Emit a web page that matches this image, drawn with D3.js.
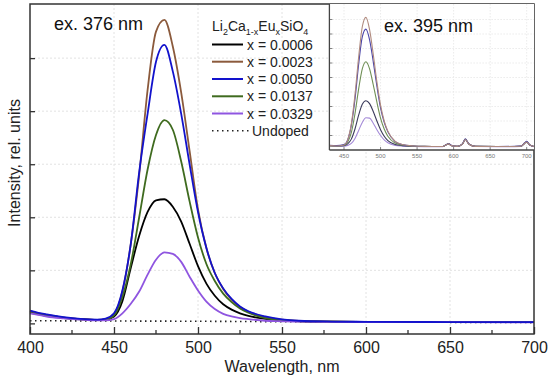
<!DOCTYPE html>
<html><head><meta charset="utf-8">
<script src="https://cdn.jsdelivr.net/npm/d3@7"></script>
<style>body{margin:0;background:#fff}svg{display:block}text{font-family:"Liberation Sans",Arial,sans-serif}</style>
</head><body><svg id="c" width="550" height="379"></svg>
<script>
// ---------- data (main, ex. 376 nm) ----------
const wavelengths = [400,405,410,420,430,440,445,450,455,460,465,470,475,480,485,490,495,500,505,510,515,520,525,530,540,550,560,580,600,650,700];
const seriesLabels = ["x = 0.0006","x = 0.0023","x = 0.0050","x = 0.0137","x = 0.0329"];
const s0006 = [0.22,0.18,0.15,0.11,0.08,0.065,0.07,0.13,0.42,1.05,1.65,2.1,2.32,2.34,2.2,1.92,1.5,1.08,0.75,0.52,0.36,0.26,0.19,0.14,0.085,0.055,0.04,0.032,0.028,0.024,0.022];
const s0023 = [0.23,0.19,0.16,0.11,0.08,0.065,0.08,0.17,0.6,1.5,2.8,4.4,5.5,5.72,5.22,4.35,3.25,2.15,1.42,0.95,0.65,0.45,0.31,0.22,0.12,0.07,0.045,0.032,0.028,0.024,0.022];
const s0050 = [0.24,0.2,0.17,0.12,0.085,0.07,0.09,0.19,0.62,1.5,2.85,3.95,4.93,5.25,4.75,3.95,3.0,2.1,1.42,0.95,0.66,0.46,0.32,0.23,0.13,0.075,0.05,0.035,0.03,0.025,0.022];
const s0137 = [0.2,0.17,0.14,0.1,0.075,0.06,0.07,0.15,0.5,1.12,2.0,2.9,3.55,3.83,3.65,3.05,2.3,1.62,1.12,0.8,0.56,0.4,0.28,0.2,0.1,0.06,0.042,0.032,0.028,0.024,0.022];
const s0329 = [0.19,0.16,0.13,0.095,0.07,0.055,0.055,0.08,0.19,0.37,0.6,0.92,1.2,1.34,1.31,1.16,0.88,0.62,0.41,0.27,0.18,0.13,0.1,0.08,0.05,0.04,0.032,0.028,0.025,0.022,0.02];
const undopedWl = [400,450,500,550,600,650,700];
const undoped = [0.05,0.045,0.04,0.032,0.025,0.02,0.015];
const xTicks = [400,450,500,550,600,650,700];
const xMinor = [425,475,525,575,625,675];
const yTicks = [0,1,2,3,4,5];

// ---------- data (inset, ex. 395 nm) ----------
const insetWl = [430,440,450,455,460,465,470,475,480,485,490,495,500,505,510,520,530,545,560,585,590,593,597,605,612,616,621,630,660,692,697,700,704,710];
const in0006 = [0.3,0.28,0.3,0.42,0.75,1.45,2.4,3.15,3.4,3.2,2.65,2.0,1.4,0.95,0.65,0.38,0.3,0.26,0.24,0.24,0.36,0.42,0.3,0.25,0.4,0.72,0.4,0.25,0.24,0.26,0.45,0.55,0.35,0.24];
const in0023 = [0.3,0.28,0.35,0.7,1.8,3.8,6.4,8.5,9.15,8.3,6.6,4.7,3.1,2.0,1.3,0.6,0.38,0.28,0.25,0.24,0.36,0.42,0.3,0.25,0.4,0.72,0.4,0.25,0.24,0.26,0.45,0.55,0.35,0.24];
const in0050 = [0.32,0.3,0.37,0.7,1.7,3.5,5.9,7.8,8.34,7.6,6.1,4.4,2.9,1.9,1.25,0.58,0.37,0.28,0.25,0.24,0.38,0.45,0.32,0.25,0.42,0.78,0.42,0.25,0.24,0.27,0.48,0.6,0.36,0.24];
const in0137 = [0.3,0.28,0.33,0.55,1.2,2.5,4.2,5.6,6.09,5.6,4.5,3.3,2.2,1.45,0.95,0.48,0.33,0.27,0.25,0.24,0.37,0.43,0.31,0.25,0.41,0.75,0.41,0.25,0.24,0.26,0.46,0.57,0.35,0.24];
const in0329 = [0.3,0.27,0.27,0.32,0.45,0.8,1.35,1.9,2.22,2.2,1.85,1.4,1.0,0.7,0.5,0.32,0.27,0.24,0.23,0.23,0.36,0.42,0.3,0.24,0.4,0.72,0.4,0.24,0.23,0.25,0.45,0.55,0.34,0.23];
const insetXTicks = [450,500,550,600,650,700];
const insetYTicks = [1,2,3,4,5,6,7,8,9];

const colors = ["#000000","#8b5a3c","#1212cc","#3f6b1f","#8f55e0"];
const insetColors = ["#3c3c5c","#b08a7e","#4a44a8","#6f8f55","#a48ad8"];

// ---------- layout ----------
const svg = d3.select("#c");
const L = 30, R = 534, T = 4, B = 334;
const x = d3.scaleLinear().domain([400,700]).range([L,R]);
const y = d3.scaleLinear().domain([-0.2,6.02]).range([B,T]);

// grid
const g = svg.append("g");
g.selectAll("line.gx").data(xTicks.slice(1,-1)).join("line")
  .attr("x1",d=>x(d)).attr("x2",d=>x(d)).attr("y1",T).attr("y2",B)
  .attr("stroke","#e2e2e2").attr("stroke-width",1).attr("stroke-dasharray","2,2");
g.selectAll("line.gy").data(yTicks.slice(1)).join("line")
  .attr("x1",L).attr("x2",R).attr("y1",d=>y(d)).attr("y2",d=>y(d))
  .attr("stroke","#e2e2e2").attr("stroke-width",1).attr("stroke-dasharray","2,2");

// curves
const line = d3.line().x(d=>x(d[0])).y(d=>y(d[1])).curve(d3.curveMonotoneX);
const mainSeries = [s0006,s0023,s0137,s0329,s0050];
const mainColorIdx = [0,1,3,4,2];
svg.append("path").datum(undopedWl.map((w,i)=>[w,undoped[i]]))
  .attr("d",line).attr("fill","none").attr("stroke","#222").attr("stroke-width",1.6)
  .attr("stroke-dasharray","1.5,3.5");
mainSeries.forEach((s,k)=>{
  svg.append("path").datum(wavelengths.map((w,i)=>[w,s[i]]))
    .attr("d",line).attr("fill","none").attr("stroke",colors[mainColorIdx[k]])
    .attr("stroke-width",1.8).attr("stroke-linejoin","round");
});

// axes
const xAxis = d3.axisBottom(x).tickValues(xTicks).tickSize(-7).tickPadding(10).tickFormat(d3.format("d"));
const gx = svg.append("g").attr("transform",`translate(0,${B})`).call(xAxis);
gx.select(".domain").remove();
gx.selectAll(".tick line").attr("stroke","#333").attr("stroke-width",1.3);
gx.selectAll(".tick text").attr("font-size",16).attr("fill","#222").attr("dy","0.71em").attr("y",8);
svg.append("g").selectAll("line").data(xMinor).join("line")
  .attr("x1",d=>x(d)).attr("x2",d=>x(d)).attr("y1",B).attr("y2",B-4)
  .attr("stroke","#333").attr("stroke-width",1.3);
const yAxis = d3.axisLeft(y).tickValues(yTicks).tickSize(-5).tickFormat("");
const gy = svg.append("g").attr("transform",`translate(${L},0)`).call(yAxis);
gy.select(".domain").remove();
gy.selectAll(".tick line").attr("stroke","#333").attr("stroke-width",1.3);

// frame
svg.append("rect").attr("x",L).attr("y",T).attr("width",R-L).attr("height",B-T)
  .attr("fill","none").attr("stroke","#333").attr("stroke-width",1.5);

// labels
svg.append("text").attr("x",(L+R)/2).attr("y",372).attr("text-anchor","middle")
  .attr("font-size",16).attr("fill","#222").text("Wavelength, nm");
svg.append("text").attr("transform","translate(20,163) rotate(-90)").attr("text-anchor","middle")
  .attr("font-size",16).attr("fill","#222").text("Intensity, rel. units");
svg.append("text").attr("x",54).attr("y",30).attr("font-size",18).attr("fill","#111").text("ex. 376 nm");

// legend
const lg = svg.append("g");
const title = lg.append("text").attr("x",212).attr("y",31).attr("font-size",14).attr("fill","#222");
[["Li",0],["2",1],["Ca",0],["1-x",1],["Eu",0],["x",1],["SiO",0],["4",1]].forEach(([t,sub],i,arr)=>{
  const prevSub = i>0 ? arr[i-1][1] : 0;
  const dy = sub && !prevSub ? 4 : (!sub && prevSub ? -4 : 0);
  title.append("tspan").attr("dy",dy).attr("font-size",sub?9:14).text(t);
});
const legY = [44.5,61.7,79,96.3,113.5];
seriesLabels.forEach((lab,i)=>{
  lg.append("line").attr("x1",212).attr("x2",243).attr("y1",legY[i]).attr("y2",legY[i])
    .attr("stroke",colors[i]).attr("stroke-width",2);
  lg.append("text").attr("x",247).attr("y",legY[i]+5).attr("font-size",14).attr("fill","#222").text(lab);
});
lg.append("line").attr("x1",212).attr("x2",249).attr("y1",130.7).attr("y2",130.7)
  .attr("stroke","#222").attr("stroke-width",1.6).attr("stroke-dasharray","1.5,3.5");
lg.append("text").attr("x",252).attr("y",135.7).attr("font-size",14).attr("fill","#222").text("Undoped");

// ---------- inset ----------
const IL = 329.4, IR = 534, IT = 4, IB = 150;
const xi = d3.scaleLinear().domain([430,710]).range([IL,IR]);
const yi = d3.scaleLinear().domain([0,10.07]).range([IB,IT]);
const ig = svg.append("g");
ig.append("rect").attr("x",IL).attr("y",IT).attr("width",IR-IL).attr("height",IB-IT).attr("fill","#fff");
ig.selectAll("line.igx").data(insetXTicks).join("line")
  .attr("x1",d=>xi(d)).attr("x2",d=>xi(d)).attr("y1",IT).attr("y2",IB)
  .attr("stroke","#e6e6e6").attr("stroke-width",0.8).attr("stroke-dasharray","1.5,1.5");
ig.selectAll("line.igy").data(insetYTicks).join("line")
  .attr("x1",IL).attr("x2",IR).attr("y1",d=>yi(d)).attr("y2",d=>yi(d))
  .attr("stroke","#e6e6e6").attr("stroke-width",0.8).attr("stroke-dasharray","1.5,1.5");
ig.selectAll("line.iyt").data(insetYTicks).join("line")
  .attr("x1",IL).attr("x2",IL+3).attr("y1",d=>yi(d)).attr("y2",d=>yi(d))
  .attr("stroke","#666").attr("stroke-width",0.8);
ig.selectAll("line.ixt").data(insetXTicks).join("line")
  .attr("x1",d=>xi(d)).attr("x2",d=>xi(d)).attr("y1",IB).attr("y2",IB-3)
  .attr("stroke","#666").attr("stroke-width",0.8);
const iline = d3.line().x(d=>xi(d[0])).y(d=>yi(d[1])).curve(d3.curveMonotoneX);
const insetSeries = [in0329,in0006,in0137,in0050,in0023];
const insetColorIdx = [4,0,3,2,1];
insetSeries.forEach((s,k)=>{
  ig.append("path").datum(insetWl.map((w,i)=>[w,s[i]]))
    .attr("d",iline).attr("fill","none").attr("stroke",insetColors[insetColorIdx[k]])
    .attr("stroke-width",1.1);
});
ig.selectAll("text.ixl").data(insetXTicks).join("text")
  .attr("x",d=>xi(d)).attr("y",IB+7.5).attr("text-anchor","middle")
  .attr("font-size",6).attr("fill","#777").text(d=>d);
ig.append("line").attr("x1",IL).attr("x2",IL).attr("y1",IT).attr("y2",IB).attr("stroke","#444").attr("stroke-width",1.3);
ig.append("line").attr("x1",IL).attr("x2",IR).attr("y1",IB).attr("y2",IB).attr("stroke","#444").attr("stroke-width",1.3);
ig.append("text").attr("x",384).attr("y",32).attr("font-size",18).attr("fill","#111").text("ex. 395 nm");
</script></body></html>
